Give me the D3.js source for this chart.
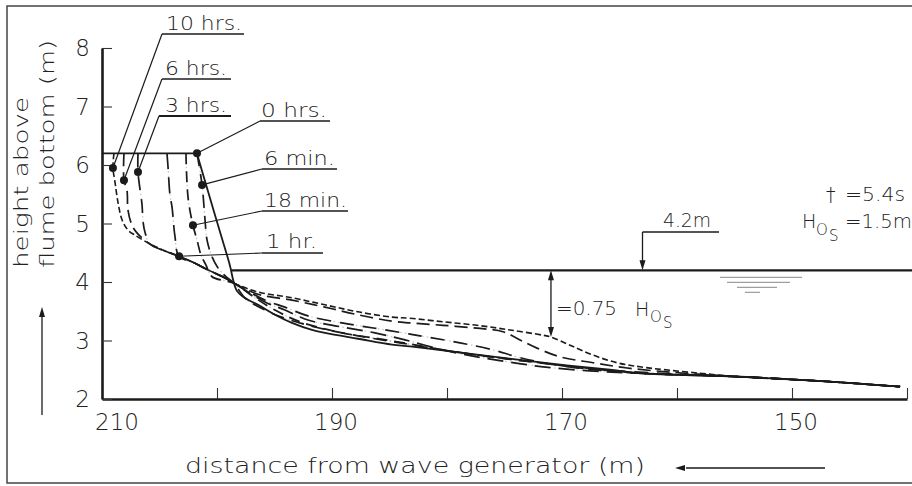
<!DOCTYPE html>
<html>
<head>
<meta charset="utf-8">
<script src="https://cdn.jsdelivr.net/npm/d3@7"></script>
<style>
  body { margin: 0; background: #fff; }
  text { font-family: "DejaVu Sans", sans-serif; font-weight: 200; fill: #222; }
</style>
</head>
<body>
<svg id="chart" width="912" height="486"></svg>
<script>
/*** DATA ***/
//axis ticks
var xTicks = [210, 200, 190, 180, 170, 160, 150, 140];
var xTickLabels = [210, 190, 170, 150];
var yTicks = [2, 3, 4, 5, 6, 7, 8];

//profiles: [distance from wave generator (m), height above flume bottom (m)]
var tail = [[154.5, 2.38], [147.0, 2.30], [140.6, 2.21]];

var profile0h = [[210, 6.2], [206, 6.2], [202.1, 6.2], [201.74, 6.2], [201.6, 6.1], [200.26, 5.2], [198.9, 4.3], [198.78, 4.2],
  [198.6, 4.04], [198.3, 3.86], [197.6, 3.73], [196.43, 3.61], [194.96, 3.44],
  [193.48, 3.30], [191.74, 3.18], [190.61, 3.13], [187.74, 3.03], [184.78, 2.93], [183.2, 2.90], [177.4, 2.76],
  [171.65, 2.62], [165.83, 2.50], [163.22, 2.44]];
var profile6min = [[201.74, 6.2], [201.3, 5.66], [201.04, 5.06], [200.87, 4.72], [200.43, 4.43], [199.91, 4.24], [199.22, 4.09],
  [198.52, 3.98], [197.57, 3.73], [195.83, 3.52], [193.65, 3.35], [191.04, 3.21], [187.74, 3.08], [184.09, 2.96],
  [179.74, 2.82], [174.52, 2.68], [169.3, 2.56], [163.22, 2.44]];
var profile18min = [[202.7, 6.2], [202.52, 5.45], [202.09, 4.97], [201.74, 4.72], [201.39, 4.46], [200.96, 4.29], [200.43, 4.09],
  [199.3, 4.02], [198.52, 3.98], [196.7, 3.73], [194.96, 3.52], [192.78, 3.32], [189.13, 3.13], [186.26, 3.04],
  [183.22, 2.94], [179.74, 2.82], [176.26, 2.72], [171.91, 2.62], [167.57, 2.51], [163.22, 2.44]];
var profile1h = [[204.35, 6.2], [204.26, 5.97], [204.09, 5.49], [203.91, 5.28], [203.65, 4.77], [203.30, 4.44],
  [201.91, 4.32], [200.61, 4.19], [199.30, 4.07], [198.52, 3.98], [195.83, 3.66], [194.09, 3.52], [192.09, 3.35],
  [189.13, 3.23], [186.26, 3.13], [183.65, 3.01], [180.35, 2.84], [177.39, 2.72], [174.52, 2.63], [171.65, 2.55],
  [167.57, 2.48], [163.22, 2.44]];
var profile3h = [[206.87, 6.2], [206.87, 5.88], [206.52, 5.32], [206.43, 5.03], [206.26, 4.85], [205.83, 4.65], [204.52, 4.53],
  [203.30, 4.44], [201.91, 4.32], [200.61, 4.19], [199.30, 4.07], [198.52, 3.98], [195.83, 3.69], [194.09, 3.57],
  [192.09, 3.42], [189.13, 3.30], [186.26, 3.21], [183.22, 3.11], [181.74, 3.06], [178.87, 2.96], [176.0, 2.84],
  [173.91, 2.72], [171.65, 2.62], [168.7, 2.53], [164.96, 2.48], [160.5, 2.43]];
var profile6h = [[208.09, 6.2], [208.09, 5.74], [207.83, 5.57], [207.74, 5.23], [207.39, 4.97], [206.96, 4.84], [205.83, 4.65],
  [204.52, 4.53], [203.30, 4.44], [201.91, 4.32], [200.61, 4.19], [199.30, 4.07], [198.52, 3.98], [196.43, 3.79],
  [193.48, 3.69], [190.61, 3.57], [187.74, 3.44], [184.78, 3.33], [183.22, 3.30], [180.35, 3.26], [177.39, 3.21],
  [175.13, 3.15], [173.65, 3.01], [172.17, 2.87], [170.17, 2.72], [167.3, 2.62], [164.35, 2.53], [160.61, 2.46]];
var profile10h = [[208.96, 6.2], [209.05, 5.95], [208.9, 5.75], [208.6, 5.35], [208.25, 5.06], [207.75, 4.89], [207.13, 4.80],
  [205.83, 4.65], [204.52, 4.53], [203.30, 4.44], [201.91, 4.32], [200.61, 4.19], [199.30, 4.07], [198.52, 3.98],
  [196.43, 3.83], [193.48, 3.73], [190.61, 3.61], [187.74, 3.49], [184.78, 3.40], [183.22, 3.38], [180.35, 3.32],
  [177.39, 3.26], [174.52, 3.18], [171.65, 3.09], [170.96, 3.06], [169.3, 2.92], [167.3, 2.75], [165.22, 2.62],
  [163.22, 2.55], [158.0, 2.44]];

//time labels and the point each one marks
var timeLabels = ['10 hrs.', '6 hrs.', '3 hrs.', '0 hrs.', '6 min.', '18 min.', '1 hr.'];
var timeDots = [[209.05, 5.95], [208.09, 5.74], [206.87, 5.88], [201.74, 6.2], [201.3, 5.66], [202.09, 4.97], [203.30, 4.44]];

var waterLevel = 4.2;
var barCrest = [170.96, 3.06];


/*** SETUP ***/
var ink = '#1b1b1b';
var svg = d3.select('#chart');
var x = d3.scaleLinear().domain([210, 140]).range([102, 907]);
var y = d3.scaleLinear().domain([2, 8]).range([399, 48]);

var line = d3.line()
  .x(function(d) { return x(d[0]); })
  .y(function(d) { return y(d[1]); })
  .curve(d3.curveCatmullRom.alpha(0.5));

function addText(str, px, py, size, len, anchor) {
  var t = svg.append('text')
    .attr('x', px)
    .attr('y', py)
    .attr('font-size', size)
    .attr('text-anchor', anchor || 'start')
    .text(str);
  if (len) t.attr('textLength', len).attr('lengthAdjust', 'spacingAndGlyphs');
  return t;
}

function seg(x1, y1, x2, y2, w, color) {
  svg.append('line')
    .attr('x1', x1).attr('y1', y1)
    .attr('x2', x2).attr('y2', y2)
    .attr('stroke', color || ink)
    .attr('stroke-width', w || 1.2);
}

//arrow head with tip at px,py, pointing in dir (up/down/left)
function arrowHead(px, py, dir) {
  var l = 10, h = 3;
  var pts;
  if (dir == 'up') pts = [[px, py], [px - h, py + l], [px + h, py + l]];
  else if (dir == 'down') pts = [[px, py], [px - h, py - l], [px + h, py - l]];
  else pts = [[px, py], [px + l, py - h], [px + l, py + h]];
  svg.append('path')
    .attr('d', 'M' + pts.join('L') + 'Z')
    .attr('fill', ink);
}


/*** FRAME ***/
svg.append('path')
  .attr('d', 'M912,6H7V483H912')
  .attr('fill', 'none')
  .attr('stroke', '#444')
  .attr('stroke-width', 1.5);


/*** AXES ***/
var xAxis = d3.axisBottom(x)
  .tickValues(xTicks)
  .tickSizeInner(-11)
  .tickSizeOuter(0)
  .tickFormat('');
var gx = svg.append('g')
  .attr('transform', 'translate(0,399)')
  .call(xAxis);

var yAxis = d3.axisLeft(y)
  .tickValues(yTicks)
  .tickSizeInner(-10)
  .tickSizeOuter(0)
  .tickFormat('');
var gy = svg.append('g')
  .attr('transform', 'translate(102,0)')
  .call(yAxis);

[gx, gy].forEach(function(g) {
  g.select('.domain').attr('stroke', ink).attr('stroke-width', 2.6);
  g.selectAll('.tick line').attr('stroke', '#333').attr('stroke-width', 1.1);
});

xTickLabels.forEach(function(v) {
  var px = (v == 210) ? x(v) + 15 : x(v) + 4;
  addText(String(v), px, 430, 23, null, 'middle');
});
yTicks.forEach(function(v) {
  addText(String(v), 90, y(v) + 8, 23, null, 'end');
});

//axis titles
addText('distance from wave generator (m)', 185, 473, 21, 460);
seg(825, 468, 686, 468, 1.3);
arrowHead(675, 468, 'left');

svg.append('text')
  .attr('transform', 'translate(28,268) rotate(-90)')
  .attr('font-size', 20)
  .attr('textLength', 171)
  .attr('lengthAdjust', 'spacingAndGlyphs')
  .text('height above');
svg.append('text')
  .attr('transform', 'translate(54,268) rotate(-90)')
  .attr('font-size', 20)
  .attr('textLength', 228)
  .attr('lengthAdjust', 'spacingAndGlyphs')
  .text('flume bottom (m)');
seg(42, 415, 42, 316, 1.3);
arrowHead(42, 307, 'up');


/*** WATER LEVEL ***/
seg(x(198.78), y(waterLevel), 912, y(waterLevel), 2.2);
[[720, 802], [727, 790], [737, 777], [745, 760]].forEach(function(d, i) {
  seg(d[0], y(waterLevel) + 7 + i * 5, d[1], y(waterLevel) + 7 + i * 5, 1, '#888');
});

//4.2m call-out
seg(x(163), 232, 719, 232, 1.3);
seg(x(163), 232, x(163), y(waterLevel) - 9, 1.3);
arrowHead(x(163), y(waterLevel), 'down');
addText('4.2m', 663, 227, 19, 48);

//0.75 Hos dimension
seg(x(barCrest[0]), y(waterLevel) + 9, x(barCrest[0]), y(barCrest[1]) - 9, 1.3);
arrowHead(x(barCrest[0]), y(waterLevel), 'up');
arrowHead(x(barCrest[0]), y(barCrest[1]), 'down');
addText('=0.75', 556, 315, 19, 61);
addText('H', 635, 316, 19);
addText('O', 650, 322, 15);
addText('S', 663, 328, 15);

//wave conditions
addText('\u2020', 826, 201, 19);
addText('=5.4s', 845, 201, 19, 60);
addText('H', 802, 228, 19);
addText('O', 816, 235, 15);
addText('S', 829, 241, 15);
addText('=1.5m', 845, 228, 19, 67);


/*** PROFILES ***/
var profiles = [
  { pts: profile0h.concat(tail), dash: null, faint: false, w: 1.8 },
  { pts: profile6min.concat(tail), dash: '13,8', faint: true, w: 1.7 },
  { pts: profile18min.concat(tail), dash: '11,7', faint: true, w: 1.7 },
  { pts: profile1h.concat(tail), dash: '16,8', faint: true, w: 1.7 },
  { pts: profile3h.concat(tail), dash: '14,9', faint: true, w: 1.7 },
  { pts: profile6h.concat(tail), dash: '13,6', faint: false, w: 1.7 },
  { pts: profile10h.concat(tail), dash: '6,3', faint: false, w: 1.6 }
];

//faint dotted part of dash-dot lines
svg.append('g').selectAll('path')
  .data(profiles.filter(function(p) { return p.faint; }))
  .enter().append('path')
  .attr('d', function(p) { return line(p.pts); })
  .attr('fill', 'none')
  .attr('stroke', '#c4c4c4')
  .attr('stroke-width', 1.2)
  .attr('stroke-dasharray', '1.5,3');

svg.append('g').selectAll('path')
  .data(profiles)
  .enter().append('path')
  .attr('d', function(p) { return line(p.pts); })
  .attr('fill', 'none')
  .attr('stroke', ink)
  .attr('stroke-width', function(p) { return p.w; })
  .attr('stroke-dasharray', function(p) { return p.dash; });


/*** TIME LABELS ***/
var labelLayout = [
  { tx: 166, ty: 30, len: 76, ux: [162, 244], uy: 34 },
  { tx: 165, ty: 75, len: 62, ux: [162, 231], uy: 79 },
  { tx: 165, ty: 112, len: 62, ux: [159, 231], uy: 116 },
  { tx: 261, ty: 117, len: 66, ux: [260, 330], uy: 121 },
  { tx: 264, ty: 165, len: 71, ux: [262, 337], uy: 169 },
  { tx: 264, ty: 207, len: 83, ux: [262, 348], uy: 211 },
  { tx: 266, ty: 248, len: 51, ux: [262, 323], uy: 253 }
];

timeLabels.forEach(function(lbl, i) {
  var L = labelLayout[i];
  var dx = x(timeDots[i][0]), dy = y(timeDots[i][1]);
  addText(lbl, L.tx, L.ty, 19, L.len);
  seg(L.ux[0], L.uy, L.ux[1], L.uy, (i == 2) ? 2 : 1.3);
  seg(L.ux[0], L.uy, dx, dy, 1.2);
  svg.append('circle')
    .attr('cx', dx)
    .attr('cy', dy)
    .attr('r', 4)
    .attr('fill', ink);
});
</script>
</body>
</html>
